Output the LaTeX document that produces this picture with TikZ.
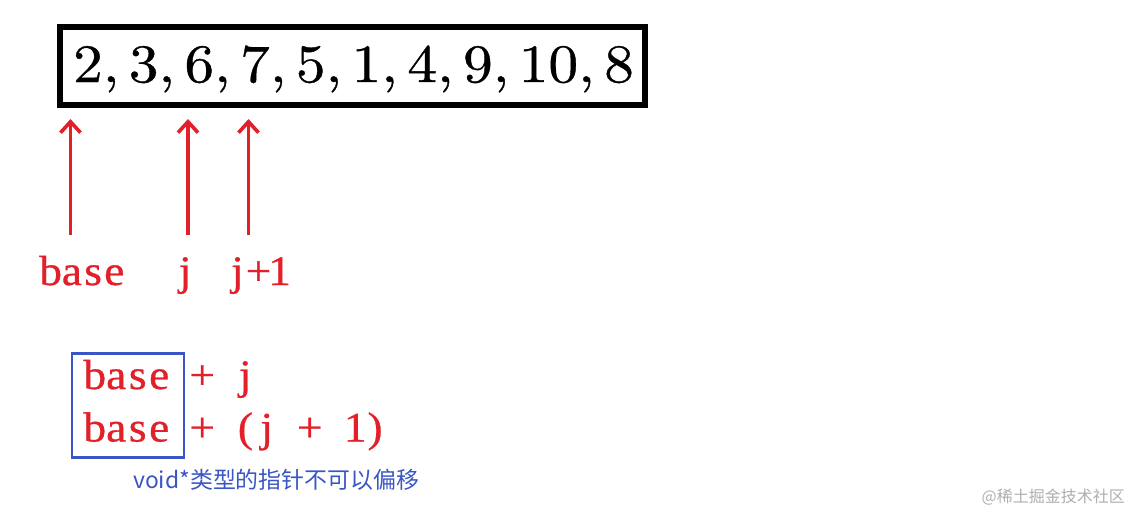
\documentclass[tikz,border=0pt]{standalone}
\usepackage{fontspec}
\usetikzlibrary{arrows.meta}
\newfontfamily\lserif{Liberation Serif}[FakeBold=0.7,FakeStretch=1.08]
\newfontfamily\numfont{lmroman10-regular}[Extension=.otf,FakeStretch=1.1,FakeBold=0.7]
\newfontfamily\cjk{Noto Sans CJK SC}
\definecolor{ptrred}{RGB}{226,32,42}
\definecolor{boxblue}{RGB}{58,86,196}
\definecolor{wmgray}{RGB}{175,175,175}
\newcommand{\cc}[1]{\makebox[21.5pt]{#1}}
\newcommand{\sepc}{,\hspace{9.5pt}}
\begin{document}
\begin{tikzpicture}[x=1pt,y=-1pt,
  redlabel/.style={inner sep=0pt,outer sep=0pt,text=ptrred,font=\lserif\fontsize{42}{46}\selectfont,anchor=base west},
  ptr/.style={draw=ptrred,line width=3.4pt,-{Straight Barb[length=11pt,width=20pt,line width=3.6pt]}},
  arraybox/.style={draw=black,line width=6pt,minimum width=585pt,minimum height=78pt,inner sep=0pt},
  castbox/.style={draw=boxblue,line width=2.7pt,minimum width=112pt,minimum height=104pt,inner sep=0pt}]
\useasboundingbox (0,0) rectangle (1135,514);
\fill[white] (0,0) rectangle (1135,514);

% array box
\node[arraybox] (arr) at (352,66) {};
\node[inner sep=0pt,anchor=base,font=\numfont\fontsize{54}{60}\selectfont] (nums) at (353.5,82)
  {2\sepc 3\sepc 6\sepc 7\sepc 5\sepc 1\sepc 4\sepc 9\sepc 10\sepc 8};

% top labels
\node[redlabel] (lbase) at (40,285) {\makebox[21.25pt]{b}\makebox[21.25pt]{a}\makebox[21.25pt]{s}\makebox[21.25pt]{e}};
\node[redlabel] (lj) at (174.5,285) {\cc{j}};
\node[redlabel] (lj1) at (227,285) {\makebox[21pt]{j}\makebox[21pt]{+}\makebox[21pt]{1}};

% arrows
\coordinate (s0) at (70.5,235);  \coordinate (e0) at (70.5,119);
\coordinate (s1) at (188,235);   \coordinate (e1) at (188,119);
\coordinate (s2) at (248.5,235); \coordinate (e2) at (248.5,119);
\draw[ptr] (s0) -- (e0);
\draw[ptr] (s1) -- (e1);
\draw[ptr] (s2) -- (e2);

% expressions
\node[castbox] (cast) at (128,405.5) {};
\node[redlabel] (expr1) at (84,389) {\cc{b}\cc{a}\cc{s}\cc{e}\cc{}\cc{+}\cc{}\cc{j}};
\node[redlabel] (expr2) at (84,441.5) {\cc{b}\cc{a}\cc{s}\cc{e}\cc{}\cc{+}\makebox[43pt][r]{(\hspace{3pt}}\cc{j}\cc{}\cc{+}\cc{}\cc{\hspace{5pt}1}\makebox[43pt][l]{\hspace{4pt})}};

% caption
\node[inner sep=0pt,anchor=base west,text=boxblue,font=\cjk\fontsize{22.9}{26}\selectfont] (cap) at (133,488) {void*类型的指针不可以偏移};

% watermark
\node[inner sep=0pt,anchor=base east,text=wmgray,font=\cjk\fontsize{16}{18}\selectfont] (wm) at (1125,502) {@稀土掘金技术社区};
\end{tikzpicture}
\end{document}
